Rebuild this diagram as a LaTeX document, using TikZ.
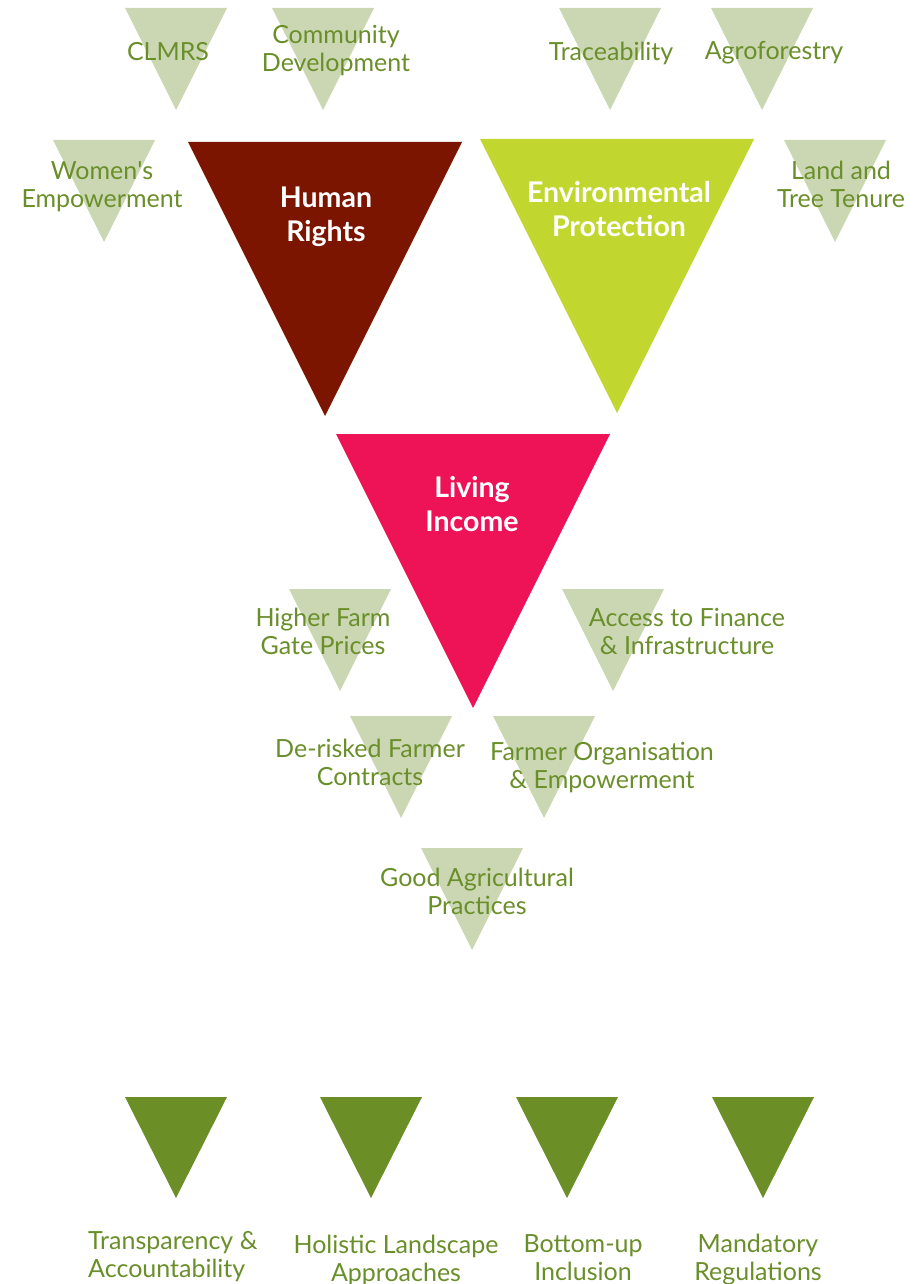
\documentclass[tikz,border=0pt]{standalone}
\usepackage{fontspec}
\setmainfont{Lato}
\usetikzlibrary{positioning}

\definecolor{sage}{HTML}{CBD7B2}
\definecolor{olive}{HTML}{6A8F2A}
\definecolor{maroon}{HTML}{7B1500}
\definecolor{lime}{HTML}{C1D72F}
\definecolor{rose}{HTML}{EE1257}
\definecolor{moss}{HTML}{6B8E27}

\tikzset{
  sub/.style={text=olive, align=center, inner sep=0pt,
    font=\fontsize{25}{28}\selectfont},
  pillar/.style={text=white, align=center, inner sep=0pt,
    font=\fontsize{28.5}{34}\selectfont\bfseries},
  enabler/.style={sub}
}

\begin{document}
\begin{tikzpicture}[x=1pt,y=-1pt]
  \def \w {51}
  \def \h {102}
  \def \W {137}
  \def \H {274}
  \useasboundingbox (0,0) rectangle (923,1284);

  %% the three pillars
  \fill[maroon] (325,416) -- ++(-\W,-\H) -- ++(2*\W,0) -- cycle;
  \fill[lime] (617,413) -- ++(-\W,-\H) -- ++(2*\W,0) -- cycle;
  \fill[rose] (473,708) -- ++(-\W,-\H) -- ++(2*\W,0) -- cycle;

  %% small ones behind the labels
  \foreach \x/\y in {176/110, 323/110, 610/110, 762/110, 104/242, 835/242,
                     340/691, 613/691, 401/818, 544/818, 472/950}
    \fill[sage] (\x,\y) -- ++(-\w,-\h) -- ++(2*\w,0) -- cycle;

  \foreach \x in {176,371,567,763}
    \fill[moss] (\x,1198) -- ++(-\w,-101) -- ++(2*\w,0) -- cycle;

  \node[pillar] (humanrights) at (326,217) {Human\\Rights};
  \node[pillar] (environment) at (619,209) {Environmental\\Protection};
  \node[pillar] (livingincome) at (472,504) {Living\\Income};

  \node[sub] (clmrs) at (168,52) {CLMRS};
  \node[sub] (community) at (336,51) {Community\\Development};
  \node[sub] (traceability) at (611,53) {Traceability};
  \node[sub] (agroforestry) at (774,53) {Agroforestry};
  \node[sub] (women) at (102,187) {Women\textquotesingle s\\Empowerment};
  \node[sub] (tenure) at (841,184) {Land and\\Tree Tenure};

  \node[sub] (prices) at (323,631) {Higher Farm\\Gate Prices};
  \node[sub] (finance) at (687,631) {Access to Finance\\\& Infrastructure};
  \node[sub] (contracts) at (370,762) {De-risked Farmer\\Contracts};
  \node[sub] (organisation) at (602,767) {Farmer Organisation\\\& Empowerment};
  \node[sub] (practices) at (477,891) {Good Agricultural\\Practices};

  \node[enabler, align=left, anchor=west] (transparency) at (88,1257)
    {Transparency \&\\Accountability};
  \node[enabler] (landscape) at (396,1260) {Holistic Landscape\\Approaches};
  \node[enabler] (inclusion) at (583,1258) {Bottom-up\\Inclusion};
  \node[enabler] (regulations) at (758,1260) {Mandatory\\Regulations};
\end{tikzpicture}
\end{document}
